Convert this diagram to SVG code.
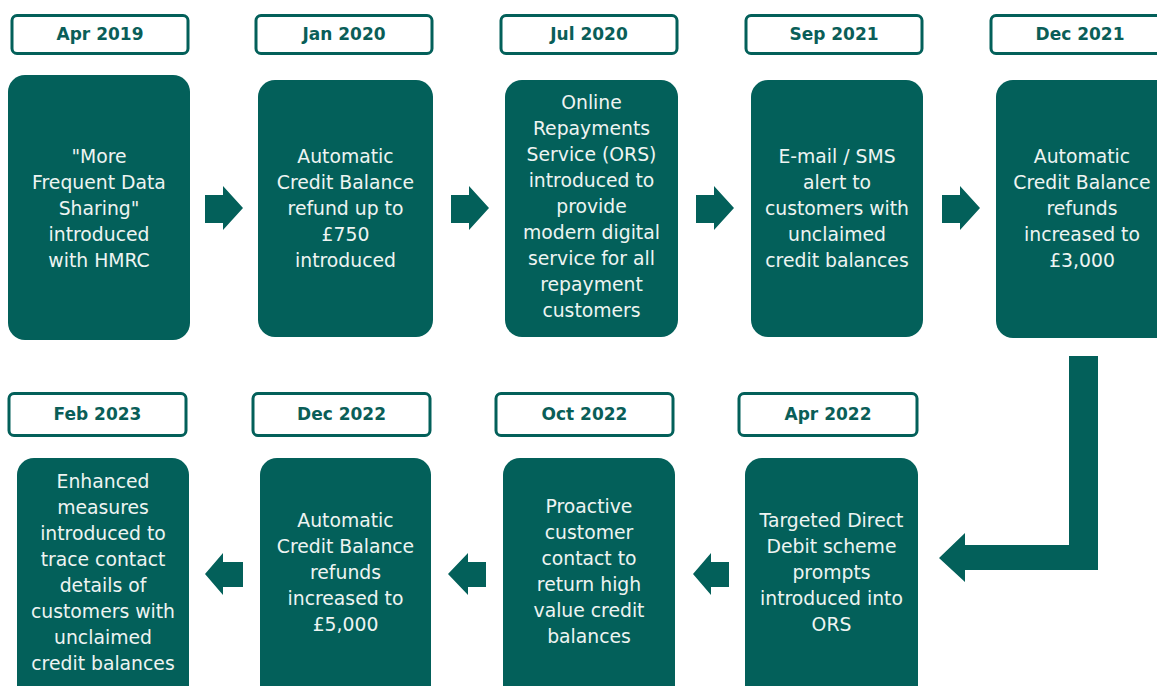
<svg xmlns="http://www.w3.org/2000/svg" width="1157" height="686" viewBox="0 0 1157 686">
<style>
.date{fill:#ffffff;stroke:#03605a;stroke-width:3}
.dt{font-family:"DejaVu Sans",sans-serif;font-weight:bold;font-size:17px;fill:#0a5e58;text-anchor:middle}
.node{fill:#03605a}
.nt{font-family:"DejaVu Sans",sans-serif;font-size:18.8px;fill:#eef4f2;text-anchor:middle}
.arr{fill:#03605a}
</style>
<rect width="1157" height="686" fill="#ffffff"/>
<g id="n1">
<rect class="date" x="12" y="15.5" width="176" height="38" rx="5"/>
<text class="dt" x="100" y="40">Apr 2019</text>
<rect class="node" x="8" y="75" width="182" height="265" rx="17"/>
<text class="nt" x="99" y="163">"More<tspan x="99" dy="26">Frequent Data</tspan><tspan x="99" dy="26">Sharing"</tspan><tspan x="99" dy="26">introduced</tspan><tspan x="99" dy="26">with HMRC</tspan></text>
</g>
<g id="n2">
<rect class="date" x="256" y="15.5" width="176" height="38" rx="5"/>
<text class="dt" x="344" y="40">Jan 2020</text>
<rect class="node" x="258" y="80" width="175" height="257" rx="17"/>
<text class="nt" x="345.5" y="163">Automatic<tspan x="345.5" dy="26">Credit Balance</tspan><tspan x="345.5" dy="26">refund up to</tspan><tspan x="345.5" dy="26">£750</tspan><tspan x="345.5" dy="26">introduced</tspan></text>
</g>
<g id="n3">
<rect class="date" x="501" y="15.5" width="176" height="38" rx="5"/>
<text class="dt" x="589" y="40">Jul 2020</text>
<rect class="node" x="505" y="80" width="173" height="257" rx="17"/>
<text class="nt" x="591.5" y="109">Online<tspan x="591.5" dy="26">Repayments</tspan><tspan x="591.5" dy="26">Service (ORS)</tspan><tspan x="591.5" dy="26">introduced to</tspan><tspan x="591.5" dy="26">provide</tspan><tspan x="591.5" dy="26">modern digital</tspan><tspan x="591.5" dy="26">service for all</tspan><tspan x="591.5" dy="26">repayment</tspan><tspan x="591.5" dy="26">customers</tspan></text>
</g>
<g id="n4">
<rect class="date" x="746" y="15.5" width="176" height="38" rx="5"/>
<text class="dt" x="834" y="40">Sep 2021</text>
<rect class="node" x="751" y="80" width="172" height="257" rx="17"/>
<text class="nt" x="837" y="163">E-mail / SMS<tspan x="837" dy="26">alert to</tspan><tspan x="837" dy="26">customers with</tspan><tspan x="837" dy="26">unclaimed</tspan><tspan x="837" dy="26">credit balances</tspan></text>
</g>
<g id="n5">
<rect class="date" x="991" y="15.5" width="176" height="38" rx="5"/>
<text class="dt" x="1080" y="40">Dec 2021</text>
<rect class="node" x="996" y="80" width="180" height="258" rx="17"/>
<text class="nt" x="1082" y="163">Automatic<tspan x="1082" dy="26">Credit Balance</tspan><tspan x="1082" dy="26">refunds</tspan><tspan x="1082" dy="26">increased to</tspan><tspan x="1082" dy="26">£3,000</tspan></text>
</g>
<g id="n6">
<rect class="date" x="739" y="393.5" width="178" height="42" rx="5"/>
<text class="dt" x="828" y="420">Apr 2022</text>
<rect class="node" x="745" y="458" width="173" height="250" rx="17"/>
<text class="nt" x="831.5" y="527">Targeted Direct<tspan x="831.5" dy="26">Debit scheme</tspan><tspan x="831.5" dy="26">prompts</tspan><tspan x="831.5" dy="26">introduced into</tspan><tspan x="831.5" dy="26">ORS</tspan></text>
</g>
<g id="n7">
<rect class="date" x="496" y="393.5" width="177" height="42" rx="5"/>
<text class="dt" x="584.5" y="420">Oct 2022</text>
<rect class="node" x="503" y="458" width="172" height="250" rx="17"/>
<text class="nt" x="589" y="513">Proactive<tspan x="589" dy="26">customer</tspan><tspan x="589" dy="26">contact to</tspan><tspan x="589" dy="26">return high</tspan><tspan x="589" dy="26">value credit</tspan><tspan x="589" dy="26">balances</tspan></text>
</g>
<g id="n8">
<rect class="date" x="253" y="393.5" width="177" height="42" rx="5"/>
<text class="dt" x="341.5" y="420">Dec 2022</text>
<rect class="node" x="260" y="458" width="171" height="250" rx="17"/>
<text class="nt" x="345.5" y="527">Automatic<tspan x="345.5" dy="26">Credit Balance</tspan><tspan x="345.5" dy="26">refunds</tspan><tspan x="345.5" dy="26">increased to</tspan><tspan x="345.5" dy="26">£5,000</tspan></text>
</g>
<g id="n9">
<rect class="date" x="9" y="393.5" width="177" height="42" rx="5"/>
<text class="dt" x="97.5" y="420">Feb 2023</text>
<rect class="node" x="17" y="458" width="172" height="250" rx="17"/>
<text class="nt" x="103" y="488">Enhanced<tspan x="103" dy="26">measures</tspan><tspan x="103" dy="26">introduced to</tspan><tspan x="103" dy="26">trace contact</tspan><tspan x="103" dy="26">details of</tspan><tspan x="103" dy="26">customers with</tspan><tspan x="103" dy="26">unclaimed</tspan><tspan x="103" dy="26">credit balances</tspan></text>
</g>
<g id="connectors">
<polygon class="arr" points="205,195 223,195 223,186 243,208 223,230 223,223 205,223"/>
<polygon class="arr" points="451,195 469,195 469,186 489,208 469,230 469,223 451,223"/>
<polygon class="arr" points="696,195 714,195 714,186 734,208 714,230 714,223 696,223"/>
<polygon class="arr" points="942,195 960,195 960,186 980,208 960,230 960,223 942,223"/>
<polygon class="arr" points="1069,356 1098,356 1098,570 965,570 965,582 939,558 965,533 965,545 1069,545"/>
<polygon class="arr" points="729,562 711,562 711,553 693,574 711,595 711,587 729,587"/>
<polygon class="arr" points="486,562 468,562 468,553 448,574 468,595 468,587 486,587"/>
<polygon class="arr" points="243,562 223,562 223,553 205,574 223,595 223,587 243,587"/>
</g>
</svg>
